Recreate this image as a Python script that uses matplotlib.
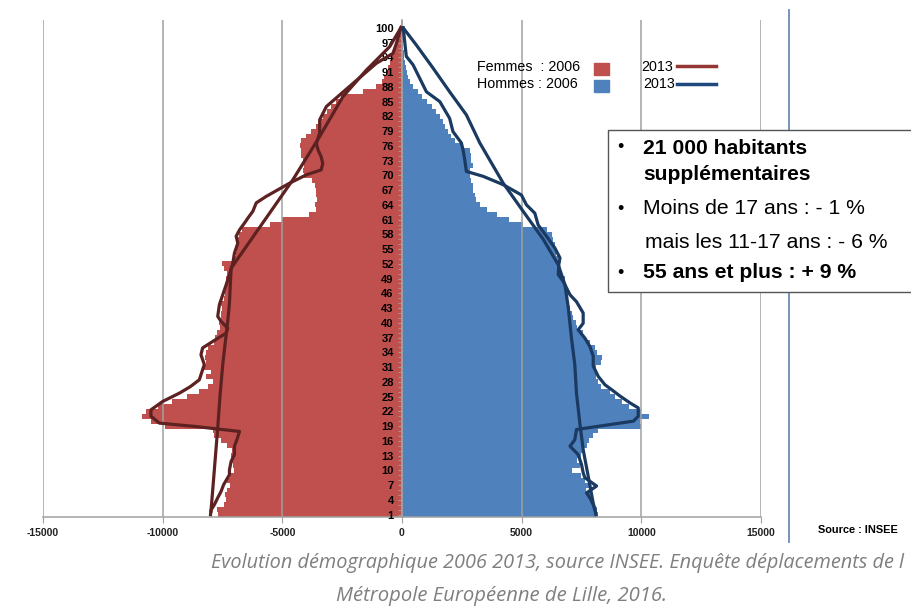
import matplotlib
matplotlib.use("Agg")
import matplotlib.pyplot as plt
from matplotlib.patches import Rectangle
from matplotlib.lines import Line2D
import numpy as np

# ages 1..100
ages = list(range(1, 101))

# 2006 bars (thousands of people)
femmes_2006 = [7.7, 7.75, 7.45, 7.35, 7.4, 7.3, 7.2, 7.3, 7.2, 7.0,
               7.05, 7.15, 7.15, 7.1, 7.3, 7.55, 7.85, 7.9, 9.9, 10.5,
               10.85, 10.7, 10.2, 9.6, 9.0, 8.5, 8.1, 7.9, 8.2, 8.0,
               8.3, 8.2, 8.25, 8.2, 8.1, 7.85, 7.8, 7.75, 7.6, 7.65,
               7.55, 7.55, 7.5, 7.55, 7.45, 7.4, 7.35, 7.3, 7.35, 7.3,
               7.45, 7.5, 7.0, 6.95, 6.9, 6.9, 6.85, 6.8, 6.7, 5.5,
               5.0, 3.9, 3.6, 3.65, 3.55, 3.6, 3.6, 3.65, 3.75, 4.1,
               4.15, 4.1, 4.15, 4.2, 4.2, 4.25, 4.2, 4.0, 3.8, 3.6,
               3.45, 3.3, 3.15, 2.95, 2.75, 2.55, 1.65, 1.1, 0.85, 0.75,
               0.65, 0.6, 0.52, 0.45, 0.38, 0.3, 0.24, 0.18, 0.12, 0.08]
hommes_2006 = [8.2, 8.13, 8.0, 7.85, 7.85, 7.7, 7.9, 7.65, 7.5, 7.1,
               7.45, 7.3, 7.5, 7.55, 7.75, 7.8, 8.0, 8.2, 10.0, 9.95,
               10.3, 10.0, 9.5, 9.2, 8.9, 8.7, 8.3, 8.2, 8.1, 8.15,
               8.1, 8.3, 8.35, 8.15, 8.05, 7.85, 7.6, 7.55, 7.3, 7.25,
               7.15, 7.1, 7.0, 6.95, 6.85, 6.8, 6.8, 6.75, 6.8, 6.7,
               6.6, 6.55, 6.5, 6.45, 6.4, 6.38, 6.32, 6.25, 6.05, 5.05,
               4.45, 3.95, 3.55, 3.25, 3.1, 3.05, 2.97, 2.95, 2.9, 2.85,
               2.85, 2.95, 2.9, 2.9, 2.85, 2.5, 2.2, 2.05, 1.92, 1.8,
               1.72, 1.58, 1.44, 1.25, 1.05, 0.85, 0.65, 0.45, 0.33, 0.25,
               0.2, 0.16, 0.13, 0.1, 0.08, 0.06, 0.05, 0.04, 0.03, 0.02]

# 2013 lines : outward path
f13_age = [1, 1.9, 3.0, 4.4, 5.7, 7.1, 9.1, 10.1, 11.8, 13.2, 14.9, 16.2, 17.9,
           18.9, 19.6, 21.0, 22.3, 24.0, 25.7, 27.0, 28.4, 31.5, 33.5, 34.9,
           36.2, 37.9, 38.9, 40.3, 41.3, 43.7, 45.7, 47.7, 49.8, 52.1, 54.2,
           56.2, 57.6, 58.9, 60.3, 61.3, 62.7, 64.4, 65.7, 68.4, 70.1, 71.1,
           72.4, 73.8, 75.2, 76.5, 78.6, 81.3, 84.0, 88.1, 92.8, 94.8, 96.9, 100]
f13_val = [8.0, 7.98, 7.84, 7.7, 7.56, 7.45, 7.21, 7.21, 7.14, 7.0, 7.0, 6.9, 6.79,
           8.6, 10.14, 10.49, 10.49, 10.0, 9.3, 8.85, 8.47, 8.26, 8.4, 8.33,
           7.91, 7.35, 7.28, 7.56, 7.7, 7.63, 7.49, 7.35, 7.21, 7.07, 7.0,
           6.86, 6.93, 6.79, 6.58, 6.44, 6.23, 6.09, 5.68, 4.7, 4.0, 3.38,
           3.31, 3.38, 3.51, 3.58, 3.44, 3.44, 3.16, 2.19, 1.07, 0.38, 0.23, 0.05]
# return path
f13b_age = [100, 96.2, 91.4, 86.0, 77.9, 69.1, 51.1, 44.0, 40.3, 36.2, 31.5,
            25.4, 18.6, 1.7]
f13b_val = [0.05, 0.51, 1.49, 2.47, 3.44, 4.56, 7.14, 7.21, 7.28, 7.38, 7.49,
            7.6, 7.7, 7.98]

h13_age = [1, 2.0, 3.0, 4.4, 5.4, 6.8, 8.5, 9.5, 11.2, 13.2, 14.9, 16.2, 18.3,
           20.0, 21.0, 22.7, 23.7, 25.1, 26.4, 27.4, 29.1, 31.2, 33.2, 35.2,
           36.9, 38.6, 39.9, 42.0, 44.3, 45.7, 48.4, 49.8, 51.8, 53.2, 55.2,
           57.6, 59.9, 62.3, 64.0, 66.0, 68.1, 69.8, 70.8, 73.2, 75.2, 76.6,
           78.9, 81.6, 85.0, 87.0, 92.5, 94.2, 100]
h13_val = [8.1, 8.06, 7.99, 7.85, 7.71, 8.13, 7.64, 7.57, 7.5, 7.36, 7.02, 7.22, 7.29,
           9.67, 9.87, 9.87, 9.53, 9.11, 8.76, 8.48, 8.2, 7.99, 7.99, 7.85,
           7.64, 7.36, 7.57, 7.57, 7.29, 7.02, 6.74, 6.53, 6.55, 6.6, 6.39,
           6.04, 5.69, 5.55, 5.2, 4.99, 4.23, 3.39, 2.69, 2.62, 2.55, 2.48,
           2.13, 1.99, 1.58, 1.02, 0.46, 0.18, 0.05]
h13b_age = [100, 96.5, 91.8, 87.0, 82.3, 76.6, 68.4, 62.7, 57.0, 51.8, 47.7,
            43.0, 36.9, 31.5, 25.7, 19.6, 14.2, 8.8, 3.3, 2.0]
h13b_val = [0.05, 0.6, 1.3, 1.99, 2.69, 3.25, 4.23, 5.06, 5.9, 6.53, 6.81,
            6.95, 7.08, 7.22, 7.29, 7.43, 7.57, 7.78, 7.99, 8.06]

x_ticks = [-15000, -10000, -5000, 0, 5000, 10000, 15000]

RED = '#c0504d'
BLUE = '#4f81bd'
DRED = '#5e2121'
DBLUE = '#1b3a62'
GRID = '#a0a0a0'

W, H = 912, 608


def fx(x):
    return x / W


def fy(y):
    return 1 - y / H


fig = plt.figure(figsize=(9.12, 6.08), dpi=100)
ax = fig.add_axes([fx(43), fy(517), fx(761) - fx(43), fy(20) - fy(517)])

f06 = -np.array(femmes_2006) * 1000
h06 = np.array(hommes_2006) * 1000
ax.barh(ages, f06, height=1.0, color=RED, linewidth=0, zorder=1)
ax.barh(ages, h06, height=1.0, color=BLUE, linewidth=0, zorder=1)

ax.plot(-np.array(f13_val) * 1000, f13_age, color=DRED, lw=2.3, zorder=4,
        solid_joinstyle='round')
ax.plot(-np.array(f13b_val) * 1000, f13b_age, color=DRED, lw=2.3, zorder=4,
        solid_joinstyle='round')
ax.plot(np.array(h13_val) * 1000, h13_age, color=DBLUE, lw=2.3, zorder=4,
        solid_joinstyle='round')
ax.plot(np.array(h13b_val) * 1000, h13b_age, color=DBLUE, lw=2.3, zorder=4,
        solid_joinstyle='round')

ax.set_xlim(-15000, 15000)
ax.set_ylim(0.5, 101.6)
ax.set_axisbelow(False)
ax.grid(axis='x', color=GRID, lw=1.1)
ax.set_xticks(x_ticks)
ax.set_xticklabels([str(t) for t in x_ticks])

for s in ['top', 'right']:
    ax.spines[s].set_visible(False)
ax.spines['left'].set_position(('data', 0))
ax.spines['left'].set_color(GRID)
ax.spines['bottom'].set_color(GRID)
ax.spines['left'].set_linewidth(1.1)
ax.spines['bottom'].set_linewidth(1.1)

narrow = ['Liberation Sans Narrow', 'Liberation Sans', 'DejaVu Sans']
ax.set_yticks(list(range(1, 101, 3)))
ax.set_yticks(ages, minor=True)
ax.tick_params(axis='y', which='both', length=3, color=GRID, pad=3,
               labelsize=8)
ax.tick_params(axis='x', length=4, color=GRID, labelsize=7.5, pad=4)
for lab in ax.get_yticklabels():
    lab.set_fontweight('bold')
    lab.set_family(narrow)
for lab in ax.get_xticklabels():
    lab.set_fontweight('bold')
    lab.set_family(narrow)
    lab.set_color('#222222')

# legend
lf = ['Liberation Sans', 'DejaVu Sans']
fig.text(fx(477), fy(67), 'Femmes  : 2006', fontsize=10.3, family=lf, va='center')
fig.text(fx(477), fy(84), 'Hommes : 2006', fontsize=10.3, family=lf, va='center')
fig.add_artist(Rectangle((fx(594), fy(75)), fx(15), fy(63) - fy(75), color=RED,
                         transform=fig.transFigure))
fig.add_artist(Rectangle((fx(594), fy(92)), fx(15), fy(80) - fy(92), color=BLUE,
                         transform=fig.transFigure))
fig.text(fx(641), fy(67), '2013', fontsize=10.3, family=lf, va='center')
fig.text(fx(643), fy(84), '2013', fontsize=10.3, family=lf, va='center')
fig.add_artist(Line2D([fx(677), fx(716)], [fy(66), fy(66)], color='#943634', lw=2.5,
                      transform=fig.transFigure))
fig.add_artist(Line2D([fx(677), fx(716)], [fy(84), fy(84)], color='#1f497d', lw=2.5,
                      transform=fig.transFigure))

# separator line and source
fig.add_artist(Line2D([fx(789), fx(789)], [fy(10), fy(542)], color='#6a8bb5', lw=1.3,
                      transform=fig.transFigure))
fig.text(fx(818), fy(530), 'Source : INSEE', fontsize=7.9, fontweight='bold',
         family=narrow, va='center')

# text box
fig.add_artist(Rectangle((fx(608), fy(292)), fx(320), fy(130) - fy(292),
                         facecolor='white', edgecolor='#555555', lw=1.0,
                         transform=fig.transFigure, zorder=5))
box_lines = [
    (148, '•', '21 000 habitants', 'bold'),
    (175, None, 'supplémentaires', 'bold'),
    (209, '•', 'Moins de 17 ans : - 1 %', 'normal'),
    (243, None, 'mais les 11-17 ans : - 6 %', 'normal'),
    (273, '•', '55 ans et plus : + 9 %', 'bold'),
]
for y, bullet, txt, w in box_lines:
    x0 = 643 if bullet or w == 'bold' else 645
    if bullet:
        fig.text(fx(617), fy(y), bullet, fontsize=13, family=lf, va='center', zorder=6)
    fig.text(fx(x0), fy(y), txt, fontsize=15.2, fontweight=w, family=lf,
             va='center', zorder=6)

# caption
cf = ['Open Sans', 'DejaVu Sans']
fig.text(fx(211), fy(563), 'Evolution démographique 2006 2013, source INSEE. Enquête déplacements de l',
         fontsize=14.3, style='italic', color='#7f7f7f', family=cf, va='center')
fig.text(fx(502), fy(596), 'Métropole Européenne de Lille, 2016.', fontsize=14.6,
         style='italic', color='#7f7f7f', family=cf, va='center', ha='center')

fig.savefig('out.png', dpi=100)
